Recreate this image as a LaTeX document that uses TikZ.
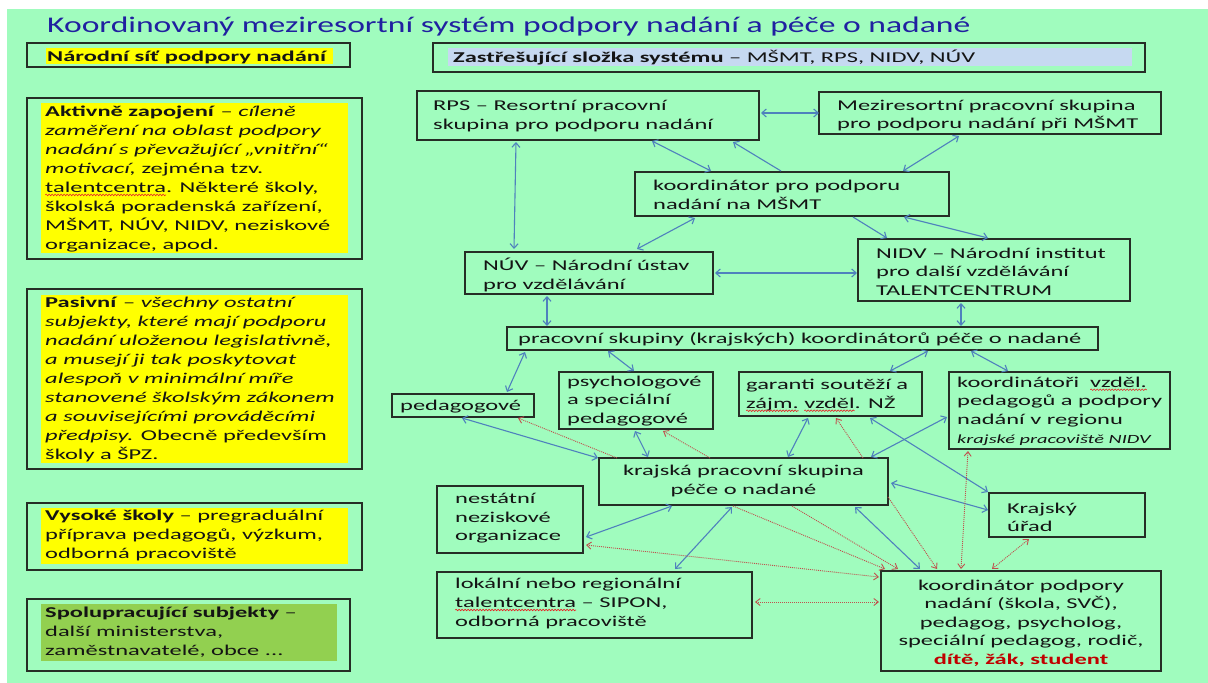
\documentclass[tikz,border=0pt]{standalone}
\usepackage{fontspec}
\setmainfont{Carlito}[FakeStretch=1.63]
\newfontfamily\titlefont{Carlito}[FakeStretch=1.5]
\usetikzlibrary{arrows.meta,calc,decorations.pathmorphing}
\definecolor{bg}{RGB}{160,252,190}
\definecolor{titleblue}{RGB}{32,32,160}
\definecolor{boxline}{RGB}{38,45,38}
\definecolor{hlyellow}{RGB}{255,255,0}
\definecolor{hlblue}{RGB}{198,217,241}
\definecolor{hlgreen}{RGB}{146,208,80}
\definecolor{arrblue}{RGB}{79,129,189}
\definecolor{arrred}{RGB}{192,80,77}
\definecolor{txtred}{RGB}{192,0,0}
\definecolor{squigred}{RGB}{230,40,40}
\newlength\sqlen
\newcommand\sq[1]{\settowidth\sqlen{#1}\rlap{#1}\tikz[overlay,baseline=0pt]\draw[squigred,line width=0.6pt,decorate,decoration={snake,amplitude=0.8pt,segment length=3pt}] (0pt,-2.5pt) -- (\sqlen,-2.5pt);\hspace{\sqlen}}
\tikzset{
  frame/.style={draw=boxline,line width=1.3pt,anchor=north west,inner sep=0pt,outer sep=0pt},
  hl/.style={anchor=north west,inner sep=0pt,outer sep=0pt},
  txt/.style={anchor=west,inner sep=0pt,align=left,text=black!92,font=\fontsize{15}{18.6}\selectfont},
  ltxt/.style={txt,font=\fontsize{15}{18.9}\selectfont},
  ctxt/.style={txt,anchor=center,align=center},
  bi/.style={draw=arrblue,line width=1.1pt,{Straight Barb[length=4.5pt,width=8pt]}-{Straight Barb[length=4.5pt,width=8pt]}},
  one/.style={draw=arrblue,line width=1.1pt,-{Straight Barb[length=4.5pt,width=8pt]}},
  rbi/.style={draw=arrred,line width=0.9pt,dash pattern=on 1pt off 1pt,{Straight Barb[length=4.5pt,width=7pt]}-{Straight Barb[length=4.5pt,width=7pt]}},
  rone/.style={draw=arrred,line width=0.9pt,dash pattern=on 1pt off 1pt,-{Straight Barb[length=4.5pt,width=7pt]}}
}
\begin{document}
\begin{tikzpicture}[x=1pt,y=-1pt]
\useasboundingbox (0,0) rectangle (1208,683);
\fill[bg] (7,9) rectangle (1208,683);

% title
\node[anchor=base west,inner sep=0pt,text=titleblue,font=\titlefont\fontsize{22.4}{26}\selectfont] (title) at (47,32) {Koordinovaný meziresortní systém podpory nadání a péče o nadané};

% ---------- left column ----------
\node[frame,minimum width=323pt,minimum height=24pt] (nar) at (27,43) {};
\node[hl,fill=hlyellow,minimum width=287pt,minimum height=16pt] (narhl) at (46,48) {};
\node[txt] (nart) at (47,57) {\textbf{Národní síť podpory nadání}};

\node[frame,minimum width=335pt,minimum height=161pt] (akt) at (27,98) {};
\node[hl,fill=hlyellow,minimum width=307pt,minimum height=150pt] (akthl) at (41,103) {};
\node[ltxt] (aktt) at (45,179) {\textbf{Aktivně zapojení} – \textit{cíleně}\\
\textit{zaměření na oblast podpory}\\
\textit{nadání s převažující „vnitřní“}\\
\textit{motivací,} zejména tzv.\\
\sq{talentcentra}. Některé školy,\\
školská poradenská zařízení,\\
MŠMT, NÚV, NIDV, neziskové\\
organizace, apod.};

\node[frame,minimum width=335pt,minimum height=180pt] (pas) at (27,289) {};
\node[hl,fill=hlyellow,minimum width=307pt,minimum height=168pt] (pashl) at (41,295) {};
\node[ltxt] (past) at (45,379.5) {\textbf{Pasivní} – \textit{všechny ostatní}\\
\textit{subjekty, které mají podporu}\\
\textit{nadání uloženou legislativně,}\\
\textit{a musejí ji tak poskytovat}\\
\textit{alespoň v minimální míře}\\
\textit{stanovené školským zákonem}\\
\textit{a souvisejícími prováděcími}\\
\textit{předpisy.} Obecně především\\
školy a ŠPZ.};

\node[frame,minimum width=335pt,minimum height=67pt] (vys) at (27,503) {};
\node[hl,fill=hlyellow,minimum width=307pt,minimum height=56pt] (vyshl) at (41,508) {};
\node[ltxt] (vyst) at (45,535.5) {\textbf{Vysoké školy} – pregraduální\\
příprava pedagogů, výzkum,\\
odborná pracoviště};

\node[frame,minimum width=323pt,minimum height=72pt] (spo) at (27,599) {};
\node[hl,fill=hlgreen,minimum width=296pt,minimum height=57pt] (spohl) at (41,604) {};
\node[ltxt] (spot) at (45,632.5) {\textbf{Spolupracující subjekty} –\\
další ministerstva,\\
zaměstnavatelé, obce ...};

% ---------- right part: boxes ----------
\node[frame,minimum width=712pt,minimum height=29pt] (zas) at (433,43) {};
\node[hl,fill=hlblue,minimum width=684pt,minimum height=18pt] (zashl) at (448,48) {};
\node[txt] (zast) at (453,57.5) {\textbf{Zastřešující složka systému} – MŠMT, RPS, NIDV, NÚV};

\node[frame,minimum width=342pt,minimum height=49pt] (rps) at (417,91) {};
\node[txt] (rpst) at (433,116) {RPS – Resortní pracovní\\skupina pro podporu nadání};

\node[frame,minimum width=342pt,minimum height=42pt] (mezi) at (819,92) {};
\node[txt] (mezit) at (837,115.5) {Meziresortní pracovní skupina\\pro podporu nadání při MŠMT};

\node[frame,minimum width=314pt,minimum height=44pt] (kmsmt) at (635,172) {};
\node[txt] (kmsmtt) at (653,195) {koordinátor pro podporu\\nadání na MŠMT};

\node[frame,minimum width=248pt,minimum height=42pt] (nuv) at (465,252) {};
\node[txt] (nuvt) at (483,275) {NÚV – Národní ústav\\pro vzdělávání};

\node[frame,minimum width=272pt,minimum height=62pt] (nidv) at (858,239) {};
\node[txt] (nidvt) at (876,271.5) {NIDV – Národní institut\\pro další vzdělávání\\TALENTCENTRUM};

\node[frame,minimum width=591pt,minimum height=23pt] (prac) at (507,327) {};
\node[txt] (pract) at (518,339.5) {pracovní skupiny (krajských) koordinátorů péče o nadané};

\node[frame,minimum width=142pt,minimum height=23pt] (ped) at (392,394) {};
\node[txt] (pedt) at (400,406.5) {pedagogové};

\node[frame,minimum width=154pt,minimum height=57pt] (psy) at (559,372) {};
\node[txt] (psyt) at (567,401) {psychologové\\a speciální\\pedagogové};

\node[frame,minimum width=183pt,minimum height=44pt] (gar) at (739,372) {};
\node[txt] (gart) at (746,395) {garanti soutěží a\\\sq{zájm.} \sq{vzděl}. NŽ};

\node[frame,minimum width=221pt,minimum height=77pt] (kvz) at (949,372) {};
\node[txt] (kvzt) at (957,411) {koordinátoři~ \sq{vzděl.}\\pedagogů a podpory\\nadání v regionu\\{\fontsize{12.5}{15}\selectfont\itshape krajské pracoviště NIDV}};

\node[frame,minimum width=289pt,minimum height=47pt] (kps) at (599,458) {};
\node[ctxt] (kpst) at (743.5,481) {krajská pracovní skupina\\péče o nadané};

\node[frame,minimum width=146pt,minimum height=67pt] (nno) at (437,486) {};
\node[txt] (nnot) at (455,518.5) {nestátní\\neziskové\\organizace};

\node[frame,minimum width=315pt,minimum height=66pt] (lok) at (437,572) {};
\node[txt] (lokt) at (455,603.5) {lokální nebo regionální\\\sq{talentcentra} – SIPON,\\odborná pracoviště};

\node[frame,minimum width=156pt,minimum height=44pt] (ku) at (989,493) {};
\node[txt] (kut) at (1007,517.5) {Krajský\\úřad};

\node[frame,minimum width=280pt,minimum height=100pt] (kpn) at (881,571) {};
\node[ctxt] (kpnt) at (1021,623) {koordinátor podpory\\nadání (škola, SVČ),\\pedagog, psycholog,\\speciální pedagog, rodič,\\{\bfseries\color{txtred}dítě, žák, student}};

% ---------- blue connectors ----------
\draw[bi] ($(rps.north east)+(2,22)$) -- ($(mezi.north west)+(0,21)$);
\draw[bi] ($(rps.south west)+(99,2)$) -- ($(nuv.north west)+(49,-3)$);
\draw[bi] ($(rps.south west)+(235,1)$) -- ($(kmsmt.north west)+(76,-1)$);
\draw[one] ($(kmsmt.north west)+(146,-1)$) -- ($(rps.south west)+(316,2)$);
\draw[bi] ($(mezi.south west)+(140,2)$) -- ($(kmsmt.north west)+(268,-1)$);
\draw[bi] ($(kmsmt.south west)+(60,2)$) -- ($(nuv.north west)+(172,-3)$);
\draw[one] ($(kmsmt.south west)+(218,1)$) -- ($(nidv.north west)+(29,-1)$);
\draw[bi] ($(kmsmt.south west)+(269,1)$) -- ($(nidv.north west)+(130,-1)$);
\draw[bi] ($(nuv.north east)+(2,21)$) -- ($(nidv.north west)+(-1,34)$);
\draw[bi] ($(nuv.south west)+(82,2)$) -- ($(prac.north west)+(40,-1)$);
\draw[bi] ($(nidv.south west)+(103,2)$) -- ($(prac.north west)+(454,-1)$);
\draw[bi] ($(prac.south west)+(18,2)$) -- ($(ped.north west)+(115,-2)$);
\draw[bi] ($(prac.south west)+(101,1)$) -- ($(psy.north west)+(75,-1)$);
\draw[bi] ($(prac.south west)+(421,1)$) -- ($(gar.north west)+(151,-1)$);
\draw[bi] ($(prac.south west)+(464,1)$) -- ($(kvz.north west)+(59,-1)$);
\draw[bi] ($(ped.south west)+(70,1)$) -- ($(kps.north west)+(-1,0)$);
\draw[bi] ($(psy.south west)+(76,2)$) -- ($(kps.north west)+(49,-1)$);
\draw[bi] ($(gar.south west)+(69,2)$) -- ($(kps.north west)+(189,-1)$);
\draw[bi] ($(kvz.north west)+(-2,45)$) -- ($(kps.north west)+(272,-1)$);
\draw[bi] ($(gar.south west)+(131,2)$) -- ($(ku.north west)+(-1,-1)$);
\draw[bi] ($(kps.north east)+(3,25)$) -- ($(ku.north west)+(-1,17)$);
\draw[bi] ($(kps.south west)+(73,1)$) -- ($(nno.north east)+(3,51)$);
\draw[bi] ($(kps.south west)+(133,2)$) -- ($(lok.north west)+(238,-3)$);
\draw[bi] ($(kps.south west)+(256,2)$) -- ($(kpn.north west)+(39,-2)$);

% ---------- red dotted connectors ----------
\draw[rone] ($(kps.north west)+(18,0)$) -- ($(ped.south west)+(126,1)$);
\draw[rone] ($(kps.north west)+(111,0)$) -- ($(psy.south west)+(104,2)$);
\draw[rone] ($(kps.north west)+(264,0)$) -- ($(gar.south west)+(97,2)$);
\draw[rbi] ($(kpn.north west)+(80,-2)$) -- ($(kvz.south west)+(19,2)$);
\draw[rbi] ($(kpn.north west)+(111,-2)$) -- ($(ku.south west)+(40,2)$);
\draw[rone] ($(kps.north east)+(0,39)$) -- ($(kpn.north west)+(56,-2)$);
\draw[rone] ($(kps.south west)+(134,1)$) -- ($(kpn.north west)+(4,-2)$);
\draw[rone] ($(kps.south west)+(193,1)$) -- ($(kpn.north west)+(17,-2)$);
\draw[rbi] ($(nno.north east)+(3,59)$) -- ($(kpn.north west)+(-2,6)$);
\draw[rbi] ($(lok.north east)+(3,30)$) -- ($(kpn.north west)+(-2,31)$);
\end{tikzpicture}
\end{document}
